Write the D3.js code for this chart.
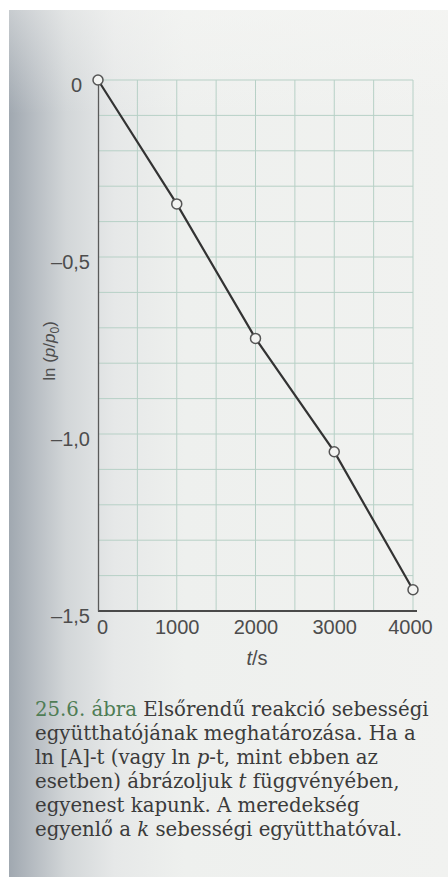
<!DOCTYPE html>
<html>
<head>
<meta charset="utf-8">
<script src="https://cdn.jsdelivr.net/npm/d3@7"></script>
<style>
  body { margin: 0; background: #fff; }
  svg { display: block; }
</style>
</head>
<body>
<svg id="chart" width="448" height="879"></svg>
<script>
// measured values, ln(p/p0) vs t
const times = [0, 1000, 2000, 3000, 4000]
const lnRatio = [0, -0.35, -0.73, -1.05, -1.44]

const xTicks = [0, 1000, 2000, 3000, 4000]
const xTickLabels = ["0", "1000", "2000", "3000", "4000"]
const yTicks = [0, -0.5, -1.0, -1.5]
const yTickLabels = ["0", "\u20130,5", "\u20131,0", "\u20131,5"]
const xGrid = d3.range(500, 4001, 500)
const yGrid = d3.range(0, 15).map(i => -i / 10)

const captionLines = [
  [{t: "25.6. ábra", green: true}, {t: " Elsőrendű reakció sebességi"}],
  [{t: "együtthatójának meghatározása. Ha a"}],
  [{t: "ln [A]-t (vagy ln "}, {t: "p", it: true}, {t: "-t, mint ebben az"}],
  [{t: "esetben) ábrázoljuk "}, {t: "t", it: true}, {t: " függvényében,"}],
  [{t: "egyenest kapunk. A meredekség"}],
  [{t: "egyenlő a "}, {t: "k", it: true}, {t: " sebességi együtthatóval."}]
]

const sans = "'Liberation Sans', Arial, Helvetica, sans-serif"

function drawChart(){
  const svg = d3.select("#chart")
  const W = 448, H = 879

  const defs = svg.append("defs")
  const g1 = defs.append("linearGradient").attr("id", "paper")
    .attr("x1", 0).attr("x2", 1).attr("y1", 0).attr("y2", 0)
  g1.selectAll("stop").data([
    [0, "#a0a8b0"], [0.05, "#b4bac0"], [0.13, "#d2d6d8"], [0.24, "#e6e8e8"], [0.4, "#eef0ee"], [1, "#f1f2f0"]
  ]).join("stop").attr("offset", d => d[0]).attr("stop-color", d => d[1])
  const g2 = defs.append("linearGradient").attr("id", "topfade")
    .attr("x1", 0).attr("x2", 0).attr("y1", 0).attr("y2", 1)
  g2.selectAll("stop").data([
    [0, "#f7f7f5", 0.45], [0.12, "#f7f7f5", 0], [1, "#f7f7f5", 0]
  ]).join("stop").attr("offset", d => d[0]).attr("stop-color", d => d[1]).attr("stop-opacity", d => d[2])

  svg.append("rect").attr("x", 9).attr("y", 10).attr("width", W - 9).attr("height", H - 12)
    .attr("fill", "url(#paper)")
  svg.append("rect").attr("x", 9).attr("y", 10).attr("width", W - 9).attr("height", H - 12)
    .attr("fill", "url(#topfade)")

  const x = d3.scaleLinear().domain([0, 4000]).range([98, 413])
  const y = d3.scaleLinear().domain([0, -1.5]).range([80, 611])

  // grid
  svg.append("g")
    .selectAll("line").data(yGrid).join("line")
    .attr("x1", x(0)).attr("x2", x(4000))
    .attr("y1", d => y(d)).attr("y2", d => y(d))
    .attr("stroke", "#b7d0c6").attr("stroke-width", 1)
  svg.append("g")
    .selectAll("line").data(xGrid).join("line")
    .attr("x1", d => x(d)).attr("x2", d => x(d))
    .attr("y1", y(0)).attr("y2", y(-1.5))
    .attr("stroke", "#b7d0c6").attr("stroke-width", 1)

  // axes
  const xAxis = svg.append("g")
    .attr("transform", `translate(0,${y(-1.5)})`)
    .call(d3.axisBottom(x).tickValues(xTicks).tickFormat((d, i) => xTickLabels[i]).tickSize(0).tickPadding(9).tickSizeOuter(0))
  xAxis.select(".domain").attr("stroke", "#4a4a4a").attr("stroke-width", 2)
    .attr("d", `M${x(0)},0H${x(4000) + 4}`)
  xAxis.selectAll("text")
    .attr("font-family", sans)
    .attr("font-size", 20).attr("fill", "#4d4d4d")
    .attr("dx", (d, i) => i === 0 ? 4 : (i === 4 ? -3 : 0))

  const yAxis = svg.append("g")
    .attr("transform", `translate(${x(0)},0)`)
    .call(d3.axisLeft(y).tickValues(yTicks).tickFormat((d, i) => yTickLabels[i]).tickSize(0).tickPadding(8).tickSizeOuter(0))
  yAxis.select(".domain").attr("stroke", "#5a5a5a").attr("stroke-width", 1.3)
  yAxis.selectAll("text")
    .attr("font-family", sans)
    .attr("font-size", 20).attr("fill", "#4d4d4d")
    .attr("dy", "0.55em")
    .attr("dx", (d, i) => i === 0 ? -8 : 0)

  // axis titles
  svg.append("text")
    .attr("x", 257).attr("y", 665)
    .attr("text-anchor", "middle")
    .attr("font-family", sans)
    .attr("font-size", 20).attr("fill", "#4d4d4d")
    .call(t => t.append("tspan").attr("font-style", "italic").text("t"))
    .call(t => t.append("tspan").text("/s"))

  const yt = svg.append("text")
    .attr("transform", "translate(55,351) rotate(-90)")
    .attr("text-anchor", "middle")
    .attr("font-family", sans)
    .attr("font-size", 17).attr("fill", "#4d4d4d")
  yt.append("tspan").text("ln (")
  yt.append("tspan").attr("font-style", "italic").text("p")
  yt.append("tspan").text("/")
  yt.append("tspan").attr("font-style", "italic").text("p")
  yt.append("tspan").attr("font-size", 12).attr("dy", 4).text("0")
  yt.append("tspan").attr("dy", -4).text(")")

  // data
  const pts = times.map((t, i) => ({t, v: lnRatio[i]}))
  const line = d3.line().x(d => x(d.t)).y(d => y(d.v))
  svg.append("path").datum(pts)
    .attr("fill", "none").attr("stroke", "#333").attr("stroke-width", 2.2)
    .attr("d", line)
  svg.append("g").selectAll("circle").data(pts).join("circle")
    .attr("cx", d => x(d.t)).attr("cy", d => y(d.v)).attr("r", 5)
    .attr("fill", "#f3f4f2").attr("stroke", "#555").attr("stroke-width", 1.5)

  // caption, sized so the first line spans the same width as in the print
  const cap = svg.append("g")
    .attr("font-family", "'DejaVu Serif', 'Liberation Serif', serif")
    .attr("font-size", 19).attr("fill", "#3b3b3b")
  const rows = captionLines.map((parts, i) => {
    const tx = cap.append("text").attr("x", 35).attr("y", 716 + i * 24)
    parts.forEach(p => {
      const s = tx.append("tspan").text(p.t)
      if (p.green) s.attr("fill", "#4f7d55")
      if (p.it) s.attr("font-style", "italic")
    })
    return tx
  })
  const w0 = rows[0].node().getComputedTextLength()
  cap.attr("font-size", 19 * 394 / w0)
}

drawChart()
</script>
</body>
</html>
